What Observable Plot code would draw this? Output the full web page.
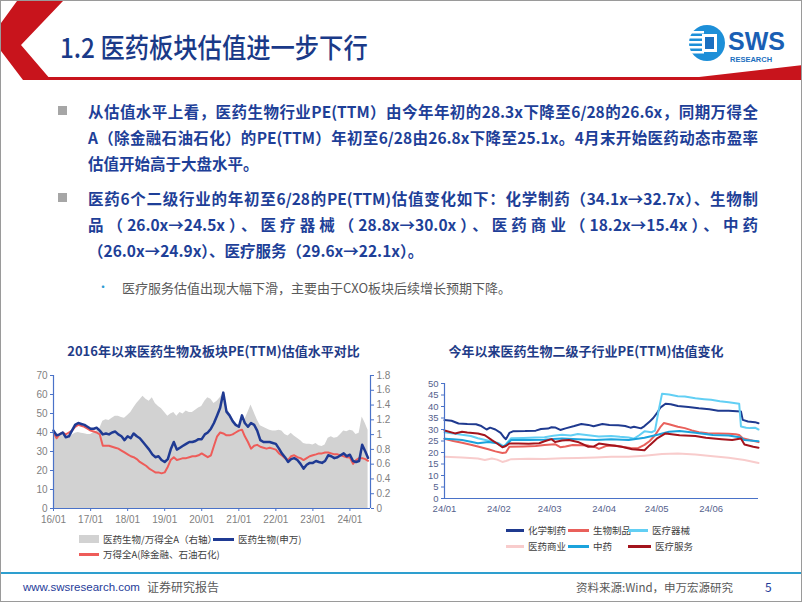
<!DOCTYPE html>
<html><head><meta charset="utf-8">
<script src="https://cdn.jsdelivr.net/npm/d3@7"></script>
<script src="https://cdn.jsdelivr.net/npm/@observablehq/plot@0.6"></script>
<style>
html,body{margin:0;padding:0;background:#fff;}
#slide{position:relative;width:802px;height:602px;box-sizing:border-box;border:1px solid #9a9a9a;overflow:hidden;font-family:"Noto Sans CJK SC",sans-serif;}
.abs{position:absolute;}
.title{left:59px;top:26px;font-size:27px;font-weight:500;color:#1a3a88;white-space:nowrap;transform:scaleX(0.9);transform-origin:left center;}
.para{left:87px;width:670px;font-size:15.5px;font-weight:700;color:#1e3f98;line-height:26px;}
.para div{text-align:justify;text-align-last:justify;}
.para div.last{text-align:left;text-align-last:left;}
.sq{width:9px;height:9px;background:#a6a6a6;}
.sub{left:121px;top:278px;font-size:13px;color:#595959;line-height:18px;white-space:nowrap;}
.dot{left:96px;top:277px;font-size:12px;color:#2c9bd3;}
.ctitle{font-size:13px;font-weight:700;color:#1f3c88;white-space:nowrap;text-align:center;}
.leg{font-size:9.5px;color:#404040;white-space:nowrap;line-height:12px;}
.foot{top:577px;font-size:12px;white-space:nowrap;line-height:18px;}
</style></head>
<body><div id="slide">
<svg class="abs" style="left:0;top:0" width="802" height="82">
  <polygon points="16,0 62,0 20,44 50,79 22,79 0,50 0,22" fill="#c8141c"/>
  <rect x="40" y="76" width="762" height="3" fill="#c8141c"/>
  <polygon points="672,79 802,79 802,64" fill="#c8141c"/>
</svg>
<div class="abs title">1.2 医药板块估值进一步下行</div>
<svg class="abs" style="left:680px;top:18px" width="122" height="50">
  <circle cx="26" cy="24" r="18" fill="#1d8fd8"/>
  <rect x="9" y="12" width="14" height="2.5" fill="#fff"/>
  <rect x="8" y="17" width="14" height="2.5" fill="#fff"/>
  <rect x="8" y="22" width="14" height="2.5" fill="#fff"/>
  <rect x="8" y="27" width="14" height="2.5" fill="#fff"/>
  <rect x="9" y="32" width="14" height="2.5" fill="#fff"/>
  <rect x="21" y="15" width="15" height="18" fill="#fff"/>
  <rect x="24" y="18" width="9" height="12" fill="#1a6fc0"/>
  <text x="47" y="31" font-family="Liberation Sans, Arial" font-weight="700" font-size="25" fill="#1a5fb4">SWS</text>
  <text x="49" y="43" font-family="Liberation Sans, Arial" font-weight="700" font-size="7.5" fill="#1a6fc0">RESEARCH</text>
</svg>

<div class="abs sq" style="left:57px;top:105px"></div>
<div class="abs para" style="top:97px">
  <div>从估值水平上看，医药生物行业PE(TTM）由今年年初的28.3x下降至6/28的26.6x，同期万得全</div>
  <div>A（除金融石油石化）的PE(TTM）年初至6/28由26.8x下降至25.1x。4月末开始医药动态市盈率</div>
  <div class="last">估值开始高于大盘水平。</div>
</div>
<div class="abs sq" style="left:57px;top:192px"></div>
<div class="abs para" style="top:184px">
  <div>医药6个二级行业的年初至6/28的PE(TTM)估值变化如下：化学制药（34.1x→32.7x）、生物制</div>
  <div>品（26.0x→24.5x）、医疗器械（28.8x→30.0x）、医药商业（18.2x→15.4x）、中药</div>
  <div class="last">（26.0x→24.9x）、医疗服务（29.6x→22.1x）。</div>
</div>
<div class="abs dot">•</div>
<div class="abs sub">医疗服务估值出现大幅下滑，主要由于CXO板块后续增长预期下降。</div>

<div class="abs ctitle" style="left:40px;width:345px;top:340px">2016年以来医药生物及板块PE(TTM)估值水平对比</div>
<div class="abs ctitle" style="left:430px;width:310px;top:340px">今年以来医药生物二级子行业PE(TTM)估值变化</div>
<div id="c1" class="abs" style="left:20px;top:365px"></div>
<div id="c2" class="abs" style="left:410px;top:372px"></div>

<div class="abs" style="left:0;top:571px;width:802px;height:2px;background:#2e9fcf"></div>
<div class="abs foot" style="left:22px;color:#1f3c99;font-family:'Liberation Sans',Arial,sans-serif;font-size:11.5px">www.swsresearch.com</div>
<div class="abs foot" style="left:146px;color:#595959">证券研究报告</div>
<div class="abs foot" style="left:575px;color:#595959;font-size:11.5px">资料来源:Wind，申万宏源研究</div>
<div class="abs foot" style="left:764px;color:#1f3c99">5</div>
</div>
<script>
// ---------- Chart 1 data (monthly, 2016-01 .. 2024-06, plus 2024-06-28) ----------
const c1Start = "2016-01-01";
const c1EndDate = "2024-06-28";
const peBio = [
 41,38.5,39,40,37.5,38,41,44,45,44.5,44,43,
 42,42,42.5,41,39,39.5,39,40,40.5,39,38,36,
 38,37,39.5,38,37,35,33,31,28.5,27,27.5,25.5,
 24.5,26,31,35,31,32,33,34,35,35,35.5,36.5,
 36.5,39,40,42,45,49,53,61,51,49,46,44,
 43,49,45,43,45,44,41,36,35,35,35,34.5,
 34,31.5,29,27,24.5,26,26.5,25.5,23.5,21,23,24,
 24,25,24.5,24,25,28,27.5,26.5,27,28,29,27.5,
 28.3,25,24.5,25,33.5,30];
const peBioEnd = 26.6;
const peMkt = [
 40,37,39,40,39,40,41,43,44,43.5,43,42,
 41,40.5,40,39,33,33,33,32.5,32,31.5,30.5,29.5,
 28.5,27.5,27,26,24.5,23.5,22.5,21,20,19,19,18.5,
 19,22,25.5,27,25.5,26,26.5,26.5,27,27.5,27.5,28,
 29,28,27,28,33,38,40,39.5,38.5,38.5,39,40,
 41,41.5,38,35,31.5,33,33.5,32.5,32,31.5,32,31.5,
 31,29,28,26.5,25.5,27.5,28,27,26.5,25.5,26.5,27.5,
 28,28.5,29,29,29.5,29.5,29,28.5,28.5,28,27.5,27,
 26.8,23.5,25.5,26.5,26.5,26];
const peMktEnd = 25.1;
const ratio = [
 1.02,0.97,0.97,0.99,0.94,0.95,0.99,1.02,1.03,1.02,1.01,1.0,
 1.0,1.03,1.05,1.08,1.18,1.2,1.19,1.22,1.25,1.25,1.23,1.22,
 1.26,1.3,1.36,1.42,1.47,1.52,1.48,1.45,1.5,1.42,1.38,1.35,
 1.3,1.25,1.28,1.3,1.25,1.3,1.28,1.32,1.3,1.3,1.33,1.36,
 1.38,1.45,1.5,1.48,1.42,1.45,1.5,1.56,1.35,1.3,1.22,1.15,
 1.1,1.18,1.2,1.3,1.4,1.3,1.2,1.12,1.1,1.08,1.06,1.05,
 1.05,1.06,1.05,1.0,0.98,1.02,0.98,0.95,0.92,0.88,0.87,0.87,
 0.86,0.88,0.85,0.84,0.86,0.95,0.97,0.95,0.96,1.0,1.05,1.04,
 1.06,1.05,1.0,1.02,1.24,1.15];
const ratioEnd = 1.06;
const leftTicks = [0,10,20,30,40,50,60,70];
const rightTicks = [0,0.2,0.4,0.6,0.8,1,1.2,1.4,1.6,1.8];
const c1Names = ["医药生物/万得全A（右轴）","医药生物(申万)","万得全A(除金融、石油石化)"];

// ---------- Chart 2 data (2024) ----------
const c2Names = ["化学制药","生物制品","医疗器械","医药商业","中药","医疗服务"];
const c2Colors = ["#1f3a8f","#e9605b","#62cff4","#f8cccc","#1ba3dc","#a3141c"];
const chem = [["01-01",34.1],["01-05",33.8],["01-09",32.6],["01-14",32.4],["01-19",32.3],["01-22",31.5],["01-25",30.0],["01-27",30.8],["01-30",30.0],["02-02",28.5],["02-04",26.5],["02-05",25.8],["02-07",28.5],["02-09",29.2],["02-16",29.3],["02-22",29.5],["02-25",30.2],["02-29",30.4],["03-02",31.0],["03-04",30.9],["03-07",29.8],["03-10",30.5],["03-15",31.5],["03-19",32.4],["03-23",32.0],["03-26",31.4],["03-31",32.4],["04-04",32.0],["04-09",31.8],["04-13",31.5],["04-16",30.8],["04-18",31.2],["04-22",30.5],["04-24",31.5],["04-27",33.5],["04-29",35.0],["05-01",37.0],["05-03",39.5],["05-06",41.2],["05-09",41.0],["05-13",40.2],["05-19",39.8],["05-25",39.2],["05-31",38.8],["06-05",38.2],["06-11",38.1],["06-18",37.8],["06-19",34.2],["06-22",33.5],["06-26",33.2],["06-28",32.7]];
const bioProd = [["01-01",26.0],["01-06",25.0],["01-11",24.2],["01-16",23.4],["01-20",22.6],["01-26",21.4],["01-30",20.5],["02-03",19.8],["02-05",20.0],["02-07",22.5],["02-15",22.6],["02-22",22.8],["02-27",23.3],["03-04",23.6],["03-07",22.3],["03-10",22.6],["03-14",23.3],["03-19",23.2],["03-23",23.0],["03-27",22.3],["03-29",21.6],["04-02",22.8],["04-07",23.0],["04-12",22.4],["04-16",22.0],["04-20",21.8],["04-24",23.3],["04-27",25.0],["04-30",27.5],["05-03",31.0],["05-05",32.8],["05-08",32.3],["05-13",31.2],["05-17",30.6],["05-21",29.6],["05-25",28.8],["05-30",28.4],["06-05",28.3],["06-11",28.1],["06-15",27.9],["06-17",27.6],["06-19",26.2],["06-23",25.4],["06-28",24.5]];
const device = [["01-01",28.8],["01-06",28.3],["01-11",27.7],["01-16",27.2],["01-20",26.2],["01-25",25.3],["01-28",24.8],["02-01",24.0],["02-04",22.6],["02-06",24.5],["02-08",26.2],["02-15",26.3],["02-22",26.5],["02-27",26.6],["03-03",27.3],["03-08",27.7],["03-13",27.4],["03-17",28.0],["03-23",27.5],["03-29",27.0],["04-05",27.2],["04-10",26.8],["04-15",26.5],["04-18",26.0],["04-21",27.5],["04-24",29.2],["04-28",28.8],["04-30",29.5],["05-02",38.0],["05-04",45.5],["05-08",45.2],["05-13",44.5],["05-17",44.3],["05-23",43.6],["05-28",43.2],["06-01",42.9],["06-06",42.3],["06-11",41.8],["06-15",41.4],["06-17",41.2],["06-18",31.3],["06-21",30.8],["06-23",30.6],["06-26",30.8],["06-28",30.0]];
const commerce = [["01-01",18.2],["01-11",17.8],["01-20",17.4],["01-24",16.7],["01-28",17.4],["01-31",16.9],["02-03",15.9],["02-05",16.3],["02-08",17.1],["02-18",17.3],["02-27",17.2],["03-08",17.5],["03-17",17.6],["03-27",17.8],["04-05",18.1],["04-15",18.1],["04-24",18.6],["05-04",19.3],["05-13",19.6],["05-23",19.1],["06-02",18.4],["06-11",17.7],["06-20",16.7],["06-28",15.4]];
const tcm = [["01-01",26.0],["01-06",25.8],["01-11",25.4],["01-16",24.7],["01-20",24.0],["01-26",24.6],["01-31",24.0],["02-03",22.6],["02-05",23.2],["02-08",25.4],["02-18",25.4],["02-27",25.5],["03-03",25.9],["03-08",26.1],["03-17",25.8],["03-27",25.4],["04-05",25.8],["04-15",25.4],["04-24",26.4],["05-02",27.8],["05-08",29.0],["05-14",29.3],["05-23",28.6],["06-02",27.6],["06-11",27.4],["06-18",26.5],["06-20",25.4],["06-28",24.9]];
const service = [["01-01",29.6],["01-07",28.3],["01-11",29.0],["01-14",28.7],["01-20",28.3],["01-24",27.5],["01-28",25.4],["01-31",23.9],["02-03",22.3],["02-05",22.8],["02-07",23.9],["02-12",23.9],["02-18",23.8],["02-24",24.0],["02-27",24.9],["03-02",25.8],["03-04",24.6],["03-08",25.2],["03-12",25.4],["03-17",24.6],["03-23",22.5],["03-26",22.6],["03-29",23.9],["04-05",23.2],["04-11",22.5],["04-17",21.4],["04-24",21.0],["04-27",23.2],["05-01",26.0],["05-06",28.3],["05-14",27.5],["05-23",27.2],["05-29",26.4],["06-07",25.8],["06-13",25.4],["06-18",26.1],["06-20",23.5],["06-25",22.5],["06-28",22.1]];
const c2Ticks = [0,5,10,15,20,25,30,35,40,45,50];

// ---------- build chart 1 ----------
const AX = "#4a72c8";
const K = 70 / 1.8;
const t0 = new Date(c1Start);
const rows1 = peBio.map((v, i) => ({date: d3.utcMonth.offset(t0, i), bio: v, mkt: peMkt[i], r: ratio[i]}));
rows1.push({date: new Date(c1EndDate), bio: peBioEnd, mkt: peMktEnd, r: ratioEnd});
const x1Domain = [t0, new Date("2024-07-22")];
const fmt = d3.utcFormat("%y/%m");
const chart1 = Plot.plot({
  width: 380, height: 162, marginLeft: 32, marginRight: 31, marginTop: 9, marginBottom: 20,
  style: {fontFamily: "'Liberation Sans', Arial, sans-serif", fontSize: "10px", background: "transparent", overflow: "visible"},
  x: {type: "utc", domain: x1Domain},
  y: {domain: [0, 70]},
  marks: [
    Plot.areaY(rows1, {x: "date", y: d => d.r * K, fill: "#d2d2d2"}),
    Plot.lineY(rows1, {x: "date", y: "mkt", stroke: "#ee5c59", strokeWidth: 2}),
    Plot.lineY(rows1, {x: "date", y: "bio", stroke: "#1f3a93", strokeWidth: 2.5}),
    Plot.ruleX([x1Domain[0]], {stroke: AX, strokeWidth: 1.2}),
    Plot.ruleX([x1Domain[1]], {stroke: AX, strokeWidth: 1.2}),
    Plot.ruleY([0], {stroke: AX, strokeWidth: 1.2}),
    Plot.axisY(leftTicks, {tickSize: 3, tickPadding: 3, stroke: AX, fill: "#7f7f7f", label: null}),
    Plot.axisY(rightTicks.map(v => v * K), {anchor: "right", tickSize: 3, tickPadding: 3, stroke: AX, fill: "#7f7f7f", label: null,
      tickFormat: v => String(Math.round(v / K * 10) / 10)}),
    Plot.axisX(d3.utcYears(t0, new Date("2024-02-01")), {tickSize: 3, tickPadding: 4, stroke: AX, fill: "#7f7f7f", tickFormat: fmt, label: null})
  ]
});
document.getElementById("c1").appendChild(chart1);

// ---------- build chart 2 ----------
const series2 = [chem, bioProd, device, commerce, tcm, service];
const rows2 = series2.flatMap((s, k) => s.map(([md, v]) => ({date: new Date("2024-" + md), v, name: c2Names[k]})));
const x2Domain = [new Date("2024-01-01"), new Date("2024-06-28")];
const chart2 = Plot.plot({
  width: 370, height: 145, marginLeft: 33, marginRight: 23, marginTop: 10, marginBottom: 20,
  style: {fontFamily: "'Liberation Sans', Arial, sans-serif", fontSize: "9.5px", background: "transparent", overflow: "visible"},
  x: {type: "utc", domain: x2Domain},
  y: {domain: [0, 50]},
  color: {domain: c2Names, range: c2Colors},
  marks: [
    ...c2Names.map(n => Plot.lineY(rows2.filter(r => r.name === n), {x: "date", y: "v", stroke: "name", strokeWidth: 2})),
    Plot.ruleX([x2Domain[0]], {stroke: AX, strokeWidth: 1.2}),
    Plot.ruleY([0], {stroke: AX, strokeWidth: 1.2}),
    Plot.axisY(c2Ticks, {tickSize: 3, tickPadding: 3, stroke: AX, fill: "#55618c", label: null}),
    Plot.axisX(d3.utcMonths(x2Domain[0], new Date("2024-06-02")), {tickSize: 0, tickPadding: 7, fill: "#55618c", tickFormat: fmt, label: null})
  ]
});
document.getElementById("c2").appendChild(chart2);

// ---------- legends ----------
const slide = document.getElementById("slide");
function legItem(x, y, sw, color, text, kind) {
  const s = document.createElement("div");
  s.className = "abs";
  if (kind === "rect") {
    s.style.cssText = `left:${x}px;top:${y - 4}px;width:${sw}px;height:8px;background:${color}`;
  } else {
    s.style.cssText = `left:${x}px;top:${y - 1.5}px;width:${sw}px;height:3px;background:${color}`;
  }
  slide.appendChild(s);
  const t = document.createElement("div");
  t.className = "abs leg";
  t.style.left = (x + sw + 4) + "px";
  t.style.top = (y - 6.5) + "px";
  t.textContent = text;
  slide.appendChild(t);
}
legItem(78, 538, 20, "#d2d2d2", c1Names[0], "rect");
legItem(212, 538, 21, "#1f3a93", c1Names[1], "line");
legItem(78, 553, 20, "#ee5c59", c1Names[2], "line");
const legPos = [[505,529],[567,529],[627,529],[505,545],[567,545],[627,545]];
const legW = [18, 21, 20, 18, 21, 23];
c2Names.forEach((n, i) => legItem(legPos[i][0], legPos[i][1], legW[i], c2Colors[i], n, "line"));
</script>
</body></html>
